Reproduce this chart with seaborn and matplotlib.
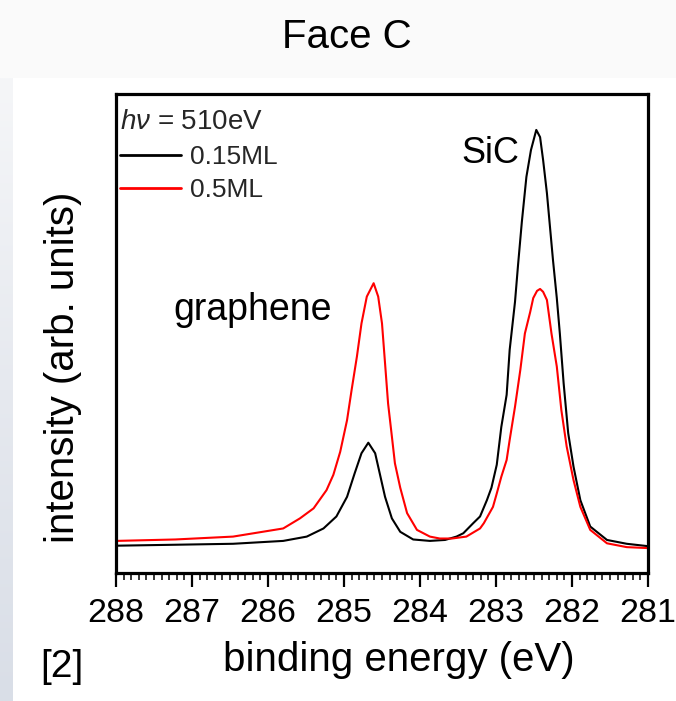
import numpy as np
import pandas as pd
import matplotlib
matplotlib.use("Agg")
import matplotlib.pyplot as plt
from matplotlib.patches import Rectangle
from matplotlib.colors import LinearSegmentedColormap
from matplotlib.ticker import MultipleLocator
import seaborn as sns

# C 1s spectra, Face C, hv = 510 eV: binding energy (eV) vs intensity (arb. units)
energy_015 = [288.00, 287.22, 286.46, 285.80, 285.49, 285.27, 285.10, 284.96, 284.86, 284.77,
              284.68, 284.59, 284.53, 284.46, 284.37, 284.26, 284.09, 283.87, 283.67, 283.52,
              283.43, 283.30, 283.21, 283.12, 283.06, 282.99, 282.93, 282.86, 282.82, 282.75,
              282.71, 282.66, 282.60, 282.54, 282.47, 282.42, 282.38, 282.33, 282.29, 282.25,
              282.20, 282.16, 282.11, 282.05, 281.98, 281.89, 281.76, 281.54, 281.28, 281.00]
intensity_015 = [5.7, 5.9, 6.1, 6.7, 7.6, 9.3, 11.8, 15.9, 20.8, 25.0,
                 27.2, 25.0, 20.8, 15.9, 11.4, 8.6, 7.0, 6.7, 6.9, 7.6,
                 8.3, 10.4, 11.8, 15.2, 17.8, 22.6, 30.5, 37.2, 46.6, 56.6,
                 64.3, 73.3, 82.7, 88.3, 92.5, 91.0, 86.2, 79.3, 72.3, 65.3,
                 57.4, 50.0, 39.6, 29.2, 22.2, 15.2, 9.7, 6.9, 6.1, 5.6]

energy_05 = [288.00, 287.22, 286.46, 285.80, 285.58, 285.40, 285.23, 285.14, 285.05, 284.96,
             284.90, 284.83, 284.77, 284.70, 284.61, 284.55, 284.50, 284.46, 284.42, 284.37,
             284.33, 284.26, 284.17, 284.04, 283.87, 283.74, 283.58, 283.39, 283.21, 283.16,
             283.04, 282.99, 282.93, 282.86, 282.82, 282.75, 282.68, 282.62, 282.55, 282.51,
             282.46, 282.42, 282.38, 282.33, 282.27, 282.20, 282.14, 282.07, 281.98, 281.89,
             281.76, 281.54, 281.28, 281.00]
intensity_05 = [6.7, 7.0, 7.6, 9.3, 11.4, 13.5, 17.3, 20.5, 25.3, 31.9,
                38.2, 45.2, 52.1, 57.7, 60.5, 57.7, 52.1, 43.8, 35.4, 28.5,
                22.9, 17.8, 12.5, 9.0, 7.6, 7.2, 7.2, 7.6, 9.3, 10.4,
                13.8, 16.6, 20.1, 23.6, 27.8, 34.7, 42.4, 50.0, 54.5, 57.4,
                58.9, 59.3, 58.7, 57.0, 50.0, 43.1, 34.0, 26.4, 19.4, 13.8,
                9.0, 6.2, 5.4, 5.2]

coverages = ["0.15ML", "0.5ML"]
line_colors = ["#000000", "#ff0000"]
x_ticks = [288, 287, 286, 285, 284, 283, 282, 281]

df = pd.concat([
    pd.DataFrame({"energy": energy_015, "intensity": intensity_015, "coverage": coverages[0]}),
    pd.DataFrame({"energy": energy_05, "intensity": intensity_05, "coverage": coverages[1]}),
], ignore_index=True)

sns.set_theme(style="white")
plt.rcParams["font.family"] = ["Liberation Sans", "DejaVu Sans"]
plt.rcParams["mathtext.fontset"] = "custom"
plt.rcParams["mathtext.rm"] = "Liberation Sans"
plt.rcParams["mathtext.it"] = "Liberation Sans:italic"

W, H = 676, 701
fig = plt.figure(figsize=(W / 100, H / 100), dpi=100)
fig.patch.set_facecolor("white")

# slide-style backdrop: pale top band and a bluish strip on the left edge
fig.add_artist(Rectangle((0, 1 - 78 / H), 1, 78 / H, transform=fig.transFigure,
                         facecolor="#fafafa", edgecolor="none", zorder=-10))
gax = fig.add_axes([0, 0, 13 / W, 1 - 78 / H])
strip = LinearSegmentedColormap.from_list("strip", ["#f5f6f8", "#e6e9ef", "#d9dee7"])
gax.imshow(np.linspace(0, 1, 256)[:, None], cmap=strip, aspect="auto")
gax.axis("off")

ax = fig.add_axes([116 / W, 1 - 573 / H, 532 / W, 479 / H])
sns.lineplot(data=df, x="energy", y="intensity", hue="coverage", hue_order=coverages,
             palette=line_colors, estimator=None, linewidth=1.5, ax=ax)

ax.set_xlim(288, 281)
ax.set_ylim(0, 100)
ax.set_xticks(x_ticks)
ax.set_xticklabels([str(t) for t in x_ticks])
ax.xaxis.set_minor_locator(MultipleLocator(0.1))
ax.set_yticks([])
ax.tick_params(axis="x", which="major", bottom=True, direction="out", length=10,
               width=1.6, color="black", labelsize=24.5, labelcolor="black", pad=8)
ax.tick_params(axis="x", which="minor", bottom=True, direction="out", length=5,
               width=1.1, color="black")
for spine in ax.spines.values():
    spine.set_visible(True)
    spine.set_linewidth(2.3)
    spine.set_color("black")

ax.set_xlabel("binding energy (eV)", fontsize=29, color="black")
ax.xaxis.set_label_coords(0.532, -0.143)
ax.set_ylabel("intensity (arb. units)", fontsize=29, color="black")
ax.yaxis.set_label_coords(-0.064, 0.429)

ax.text(287.25, 52.8, "graphene", fontsize=27, ha="left", va="baseline", color="black")
ax.text(283.45, 85.5, "SiC", fontsize=26, ha="left", va="baseline", color="black")

handles, labels = ax.get_legend_handles_labels()
leg = ax.legend(handles, labels, title=r"$h\nu$ = 510eV", loc="upper left",
                bbox_to_anchor=(0.008, 0.968), frameon=False, fontsize=19,
                title_fontsize=20, handlelength=2.3, handletextpad=0.34,
                labelspacing=0.36, borderaxespad=0, borderpad=0)
leg._legend_box.align = "left"
for line in leg.get_lines():
    line.set_linewidth(2.0)

fig.text(347 / W, 1 - 37 / H, "Face C", fontsize=29, ha="center", va="center", color="black")
fig.text(40 / W, 1 - 667 / H, "[2]", fontsize=28, ha="left", va="center", color="black")

fig.savefig("out.png", dpi=100)
